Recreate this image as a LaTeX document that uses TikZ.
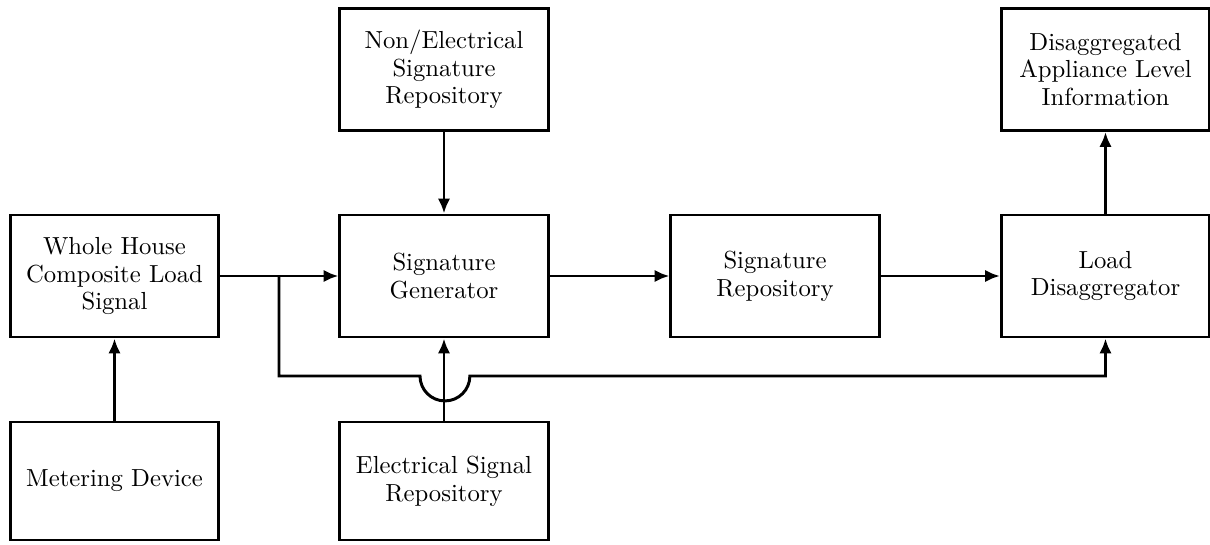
\documentclass[tikz,border=0pt]{standalone}
\usetikzlibrary{arrows.meta}
\begin{document}
\begin{tikzpicture}[x=0.405pt,y=-0.405pt,
  blk/.style={draw,line width=1.2pt,rectangle,minimum width=84.3pt,minimum height=49.4pt,
    inner sep=0pt,align=center,font=\fontsize{10}{11.2}\selectfont},
  lowblk/.style={blk,minimum height=47.8pt},
  arr/.style={line width=1.2pt,-{Latex[length=6pt,width=5pt]}},
  ln/.style={line width=1.2pt}]
\useasboundingbox (0,0) rectangle (1210,545);
\node[blk] (whouse) at (114.5,276) {Whole House\\Composite Load\\Signal};
\node[lowblk] (meter) at (114.5,481) {Metering Device};
\node[blk] (nonel) at (444,69.5) {Non/Electrical\\Signature\\Repository};
\node[blk] (siggen) at (444,276) {Signature\\Generator};
\node[lowblk] (elec) at (444,481) {Electrical Signal\\Repository};
\node[blk] (sigrepo) at (775,276) {Signature\\Repository};
\node[blk] (loaddis) at (1105.5,276) {Load\\Disaggregator};
\node[blk] (disagg) at (1105.5,69.5) {Disaggregated\\Appliance Level\\Information};
\coordinate (br) at (279,276);
\coordinate (hopL) at (420,376);
\draw[arr] (meter) -- (whouse);
\draw[arr] (whouse) -- (siggen);
\draw[arr] (nonel) -- (siggen);
\draw[arr] (elec) -- (siggen);
\draw[arr] (siggen) -- (sigrepo);
\draw[arr] (sigrepo) -- (loaddis);
\draw[arr] (loaddis) -- (disagg);
\draw[arr] (br) |- (hopL) arc[start angle=180,end angle=360,radius=10.1pt] -| (loaddis.south);
\end{tikzpicture}
\end{document}
